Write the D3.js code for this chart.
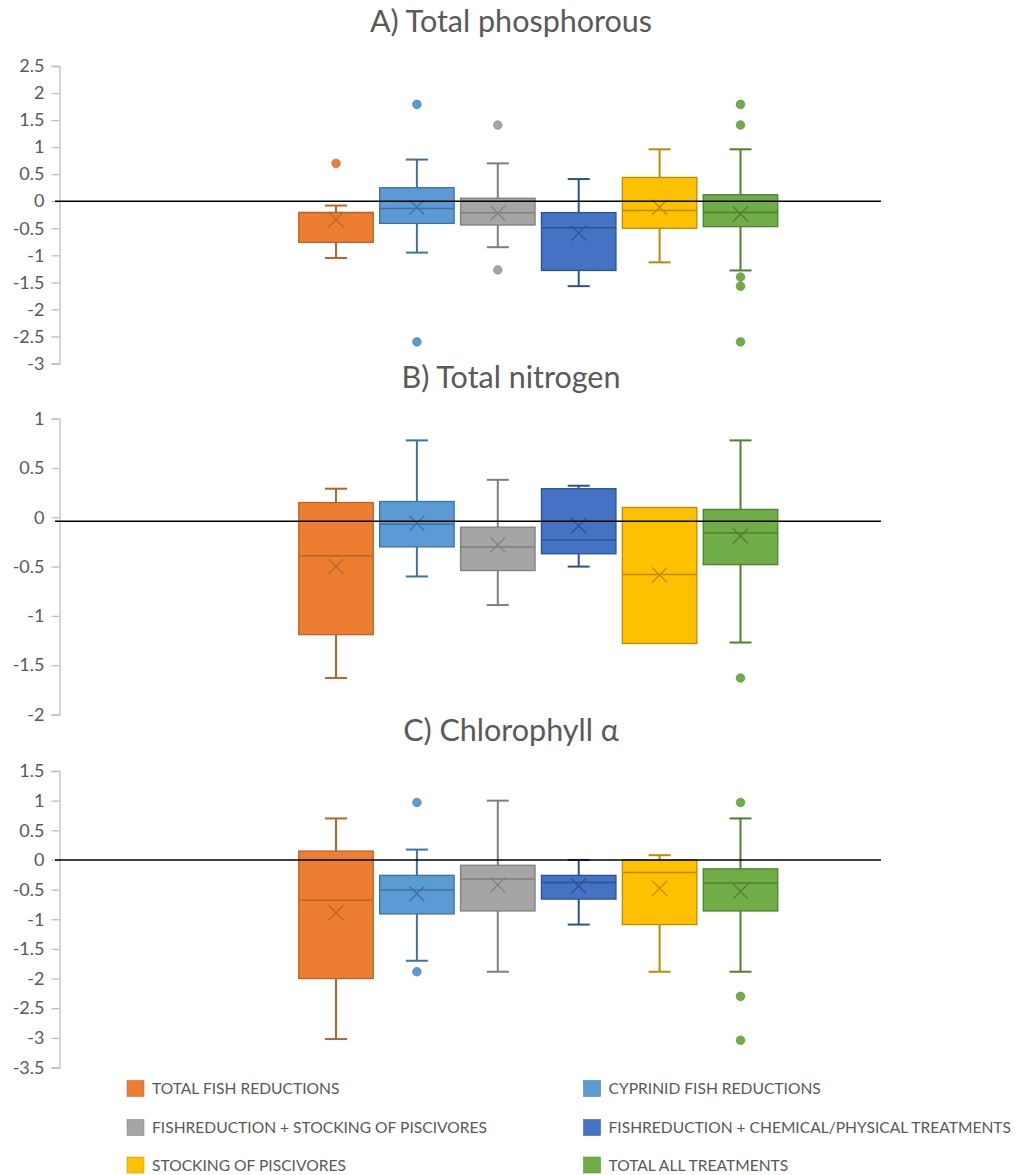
<!DOCTYPE html>
<html>
<head>
<meta charset="utf-8">
<script src="https://cdn.jsdelivr.net/npm/d3@7"></script>
<style>
  html, body { margin: 0; padding: 0; background: #fff; }
  svg { display: block; font-family: Lato, "Open Sans", sans-serif; }
</style>
</head>
<body>
<svg id="chart" width="1026" height="1175"></svg>
<script>
// ---------------- DATA ----------------
const seriesNames = [
  "TOTAL FISH REDUCTIONS",
  "CYPRINID FISH REDUCTIONS",
  "FISHREDUCTION + STOCKING OF PISCIVORES",
  "FISHREDUCTION + CHEMICAL/PHYSICAL TREATMENTS",
  "STOCKING OF PISCIVORES",
  "TOTAL ALL TREATMENTS"
];
const fillColors   = ["#ED7D31", "#5B9BD5", "#A5A5A5", "#4472C4", "#FFC000", "#70AD47"];
const strokeColors = ["#B8652A", "#41719C", "#7F7F7F", "#2F528F", "#BC8C00", "#507E32"];

const panelTitles = ["A) Total phosphorous", "B) Total nitrogen", "C) Chlorophyll \u03B1"];

// A) Total phosphorous
const phosTicks    = [2.5, 2, 1.5, 1, 0.5, 0, -0.5, -1, -1.5, -2, -2.5, -3];
const phosMin      = [-1.05, -0.95, -0.85, -1.57, -1.13, -1.28];
const phosQ1       = [-0.76, -0.41, -0.44, -1.28, -0.50, -0.47];
const phosMedian   = [-0.21, -0.135, -0.215, -0.49, -0.17, -0.21];
const phosQ3       = [-0.21, 0.25, 0.055, -0.21, 0.44, 0.12];
const phosMax      = [-0.08, 0.77, 0.70, 0.41, 0.96, 0.96];
const phosMean     = [-0.34, -0.11, -0.22, -0.59, -0.11, -0.235];
const phosOutliers = [[0.70], [1.79, -2.6], [1.41, -1.27], [], [], [1.79, 1.41, -1.40, -1.57, -2.6]];
const phosRefLine  = 0;

// B) Total nitrogen
const nitTicks    = [1, 0.5, 0, -0.5, -1, -1.5, -2];
const nitMin      = [-1.63, -0.60, -0.89, -0.50, -1.28, -1.27];
const nitQ1       = [-1.19, -0.30, -0.54, -0.37, -1.28, -0.48];
const nitMedian   = [-0.39, -0.07, -0.30, -0.23, -0.58, -0.16];
const nitQ3       = [0.15, 0.16, -0.10, 0.29, 0.10, 0.08];
const nitMax      = [0.29, 0.78, 0.38, 0.32, 0.10, 0.78];
const nitMean     = [-0.50, -0.06, -0.28, -0.085, -0.585, -0.19];
const nitOutliers = [[], [], [], [], [], [-1.63]];
const nitRefLine  = -0.04;

// C) Chlorophyll a
const chlTicks    = [1.5, 1, 0.5, 0, -0.5, -1, -1.5, -2, -2.5, -3, -3.5];
const chlMin      = [-3.02, -1.70, -1.885, -1.09, -1.885, -1.885];
const chlQ1       = [-2.0, -0.91, -0.86, -0.66, -1.09, -0.86];
const chlMedian   = [-0.68, -0.505, -0.32, -0.38, -0.21, -0.39];
const chlQ3       = [0.15, -0.26, -0.09, -0.26, 0.0, -0.15];
const chlMax      = [0.70, 0.175, 1.0, 0.0, 0.08, 0.70];
const chlMean     = [-0.89, -0.57, -0.42, -0.44, -0.48, -0.53];
const chlOutliers = [[], [0.97, -1.885], [], [], [], [0.97, -2.30, -3.04]];
const chlRefLine  = 0;

// ---------------- LAYOUT ----------------
const svg = d3.select("#chart");
const axisX = 59.5;
const refLineX = [55, 881];
const boxWidth = 74.5;
const capWidth = 22;

const x = d3.scalePoint().domain(seriesNames).range([336, 740.5]);

const panels = [
  { title: panelTitles[0], titleY: 32, domain: [-3, 2.5], range: [363.5, 66], ticks: phosTicks,
    min: phosMin, q1: phosQ1, med: phosMedian, q3: phosQ3, max: phosMax, mean: phosMean, out: phosOutliers, ref: phosRefLine },
  { title: panelTitles[1], titleY: 388, domain: [-2, 1], range: [714.5, 418.7], ticks: nitTicks,
    min: nitMin, q1: nitQ1, med: nitMedian, q3: nitQ3, max: nitMax, mean: nitMean, out: nitOutliers, ref: nitRefLine },
  { title: panelTitles[2], titleY: 741, domain: [-3.5, 1.5], range: [1067.5, 771], ticks: chlTicks,
    min: chlMin, q1: chlQ1, med: chlMedian, q3: chlQ3, max: chlMax, mean: chlMean, out: chlOutliers, ref: chlRefLine }
];

const fmt = d => String(Math.round(d * 10) / 10);

panels.forEach(p => {
  const y = d3.scaleLinear().domain(p.domain).range(p.range);
  const g = svg.append("g");

  // title
  g.append("text")
    .attr("x", 511).attr("y", p.titleY)
    .attr("text-anchor", "middle")
    .attr("fill", "#595959")
    .attr("font-size", 30.5)
    .text(p.title);

  // axis
  const axis = d3.axisLeft(y).tickValues(p.ticks).tickFormat(fmt).tickSize(8).tickPadding(7);
  const ag = g.append("g").attr("transform", `translate(${axisX},0)`).call(axis);
  ag.select(".domain").attr("stroke", "#BFBFBF").attr("stroke-width", 1.3);
  ag.selectAll(".tick line").attr("stroke", "#BFBFBF").attr("stroke-width", 1.3);
  ag.selectAll(".tick text").attr("fill", "#595959").attr("font-size", 18)
    .attr("font-family", "Lato, sans-serif");

  // boxes
  seriesNames.forEach((s, i) => {
    const cx = x(s);
    const bg = g.append("g");
    const sc = strokeColors[i];
    // whiskers
    bg.append("line").attr("x1", cx).attr("x2", cx)
      .attr("y1", y(p.q3[i])).attr("y2", y(p.max[i]))
      .attr("stroke", sc).attr("stroke-width", 2);
    bg.append("line").attr("x1", cx).attr("x2", cx)
      .attr("y1", y(p.q1[i])).attr("y2", y(p.min[i]))
      .attr("stroke", sc).attr("stroke-width", 2);
    if (p.max[i] > p.q3[i]) {
      bg.append("line").attr("x1", cx - capWidth / 2).attr("x2", cx + capWidth / 2)
        .attr("y1", y(p.max[i])).attr("y2", y(p.max[i]))
        .attr("stroke", sc).attr("stroke-width", 2);
    }
    if (p.min[i] < p.q1[i]) {
      bg.append("line").attr("x1", cx - capWidth / 2).attr("x2", cx + capWidth / 2)
        .attr("y1", y(p.min[i])).attr("y2", y(p.min[i]))
        .attr("stroke", sc).attr("stroke-width", 2);
    }
    // box
    bg.append("rect")
      .attr("x", cx - boxWidth / 2).attr("width", boxWidth)
      .attr("y", y(p.q3[i])).attr("height", y(p.q1[i]) - y(p.q3[i]))
      .attr("fill", fillColors[i]).attr("stroke", sc).attr("stroke-width", 1.3);
    // median
    bg.append("line")
      .attr("x1", cx - boxWidth / 2).attr("x2", cx + boxWidth / 2)
      .attr("y1", y(p.med[i])).attr("y2", y(p.med[i]))
      .attr("stroke", sc).attr("stroke-width", 1.5);
    // mean X
    const my = y(p.mean[i]);
    const m = 7.5;
    bg.append("path")
      .attr("d", `M${cx - m},${my - m}L${cx + m},${my + m}M${cx - m},${my + m}L${cx + m},${my - m}`)
      .attr("stroke", sc).attr("stroke-width", 1.3).attr("fill", "none");
    // outliers
    bg.selectAll("circle").data(p.out[i]).join("circle")
      .attr("cx", cx).attr("cy", d => y(d)).attr("r", 4.3)
      .attr("fill", fillColors[i]).attr("stroke", sc).attr("stroke-width", 0.6);
  });

  // reference line
  g.append("line")
    .attr("x1", refLineX[0]).attr("x2", refLineX[1])
    .attr("y1", y(p.ref)).attr("y2", y(p.ref))
    .attr("stroke", "#000").attr("stroke-width", 1.6);
});

// ---------------- LEGEND ----------------
const legendCols = [127, 583.5];
const legendRows = [1088.5, 1127.5, 1165];
const lg = svg.append("g");
seriesNames.forEach((s, i) => {
  const lx = legendCols[i % 2];
  const ly = legendRows[Math.floor(i / 2)];
  lg.append("rect").attr("x", lx).attr("y", ly - 8).attr("width", 17).attr("height", 16)
    .attr("fill", fillColors[i]).attr("stroke", strokeColors[i]).attr("stroke-width", 0.5);
  lg.append("text").attr("x", lx + 25).attr("y", ly).attr("dy", "0.36em")
    .attr("fill", "#595959").attr("font-size", 15.6).text(s);
});
</script>
</body>
</html>
